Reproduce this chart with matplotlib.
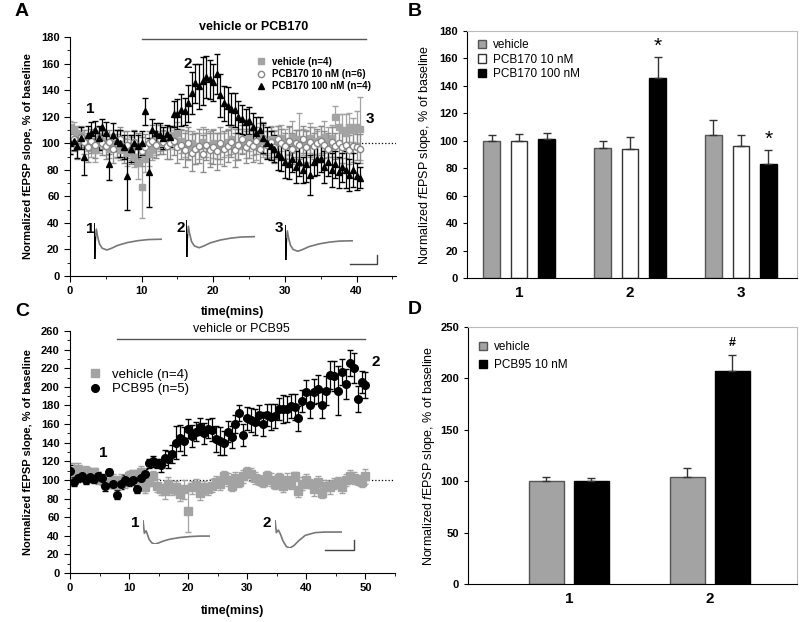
import numpy as np
import matplotlib
matplotlib.use("Agg")
import matplotlib.pyplot as plt
from matplotlib.lines import Line2D
from matplotlib.ticker import MultipleLocator

plt.rcParams['font.family'] = ['Liberation Sans', 'DejaVu Sans']
plt.rcParams['mathtext.fontset'] = 'custom'
plt.rcParams['mathtext.it'] = 'Liberation Sans:italic'
plt.rcParams['mathtext.rm'] = 'Liberation Sans'

# ---- panel A: time course, PCB170 (one point every 0.5 min) ----
t_a = np.arange(82) * 0.5
veh_a = [112, 110, 108, 106, 103, 100, 98, 95, 100, 102,
         99, 96, 100, 98, 95, 97, 93, 96, 90, 85,
         67, 88, 92, 95, 98, 100, 102, 104, 106, 103,
         108, 102, 100, 98, 100, 96, 98, 101, 99, 97,
         100, 98, 96, 99, 101, 103, 99, 98, 102, 100,
         104, 100, 98, 105, 102, 100, 103, 99, 101, 104,
         100, 102, 105, 99, 103, 101, 98, 104, 102, 100,
         103, 105, 101, 104, 120, 112, 110, 108, 112, 110,
         112, 111]
veh_a_err = [5, 6, 5, 6, 7, 6, 8, 9, 7, 6,
             8, 7, 6, 9, 8, 7, 10, 9, 8, 12,
             23, 10, 9, 8, 7, 6, 7, 8, 6, 7,
             8, 9, 10, 11, 9, 12, 10, 11, 9, 12,
             11, 10, 12, 9, 10, 11, 12, 10, 9, 11,
             10, 9, 11, 10, 12, 9, 10, 11, 12, 10,
             11, 10, 12, 11, 20, 10, 12, 11, 10, 9,
             10, 12, 11, 10, 8, 10, 12, 14, 11, 9,
             12, 24]
p10_a = [100, 103, 98, 105, 101, 97, 102, 99, 104, 100,
         98, 101, 96, 100, 103, 97, 99, 95, 101, 98,
         94, 97, 100, 102, 99, 103, 101, 98, 100, 102,
         97, 99, 95, 100, 93, 96, 98, 92, 99, 95,
         97, 94, 100, 96, 98, 101, 95, 99, 103, 97,
         100, 98, 102, 96, 104, 99, 101, 97, 103, 100,
         98, 102, 96, 100, 99, 103, 97, 101, 98, 100,
         102, 99, 96, 101, 98, 100, 97, 99, 95, 98,
         97, 96]
p10_a_err = [8, 9, 10, 8, 9, 11, 9, 10, 8, 9,
             10, 9, 11, 10, 9, 12, 10, 11, 9, 10,
             11, 10, 9, 12, 10, 11, 9, 10, 12, 11,
             12, 11, 13, 12, 14, 12, 13, 14, 12, 13,
             13, 14, 12, 13, 12, 11, 13, 12, 11, 12,
             11, 12, 10, 11, 12, 10, 11, 12, 10, 11,
             10, 11, 12, 10, 11, 10, 12, 11, 10, 11,
             11, 10, 12, 11, 10, 11, 12, 10, 11, 12,
             10, 11]
p100_a = [100, 102, 98, 104, 90, 106, 108, 110, 104, 112,
          108, 84, 106, 102, 100, 97, 75, 96, 100, 98,
          100, 124, 78, 110, 108, 106, 104, 107, 105, 122,
          122, 125, 124, 130, 138, 145, 143, 147, 150, 148,
          146, 152, 136, 130, 128, 126, 125, 120, 118, 116,
          117, 112, 108, 110, 104, 100, 98, 96, 92, 90,
          86, 84, 88, 82, 86, 80, 84, 76, 86, 88,
          88, 82, 86, 80, 84, 78, 82, 80, 76, 80,
          75, 74]
p100_a_err = [8, 7, 9, 8, 14, 7, 8, 7, 9, 6,
              8, 12, 9, 8, 10, 9, 25, 10, 9, 8,
              9, 10, 26, 8, 7, 9, 8, 7, 8, 10,
              11, 12, 10, 14, 16, 15, 17, 18, 16, 15,
              14, 15, 16, 13, 14, 12, 13, 12, 11, 10,
              10, 11, 12, 10, 11, 12, 11, 10, 12, 11,
              12, 11, 10, 12, 11, 10, 13, 15, 11, 12,
              10, 12, 11, 13, 10, 12, 11, 14, 12, 13,
              10, 8]

# ---- panel B: bar summary, PCB170 ----
b_groups = [1, 2, 3]
b_veh = [99.5, 95, 104]
b_veh_err = [4.5, 4.5, 11]
b_p10 = [100, 94, 96]
b_p10_err = [5, 9, 8]
b_p100 = [101, 146, 83]
b_p100_err = [5, 15, 10]

# ---- panel C: time course, PCB95 (one point every 40 s) ----
t_c = np.arange(76) * (50 / 75)
p95_c = [110, 98, 102, 104, 100, 103, 101, 104, 102, 94,
         108, 96, 84, 96, 100, 98, 100, 90, 102, 106,
         118, 120, 118, 116, 124, 122, 128, 140, 145, 142,
         155, 147, 152, 157, 150, 155, 154, 144, 142, 140,
         152, 146, 160, 172, 148, 166, 164, 162, 170, 160,
         170, 168, 169, 176, 176, 176, 179, 178, 166, 185,
         195, 180, 195, 198, 180, 196, 213, 212, 196, 216,
         203, 226, 220, 187, 205, 202]
p95_c_err = [6, 5, 4, 5, 4, 5, 4, 5, 4, 6,
             4, 5, 5, 6, 5, 4, 5, 4, 5, 6,
             5, 6, 5, 7, 8, 9, 10, 18, 14, 15,
             10, 12, 10, 9, 11, 10, 12, 14, 15, 13,
             11, 12, 10, 9, 12, 12, 13, 14, 11, 13,
             12, 14, 13, 12, 15, 14, 13, 14, 13, 12,
             12, 14, 13, 15, 14, 16, 15, 16, 26, 14,
             16, 14, 16, 14, 12, 14]
veh_c = [110, 108, 112, 106, 110, 104, 108, 102, 100, 98,
         96, 100, 95, 100, 98, 104, 106, 100, 108, 92,
         98, 104, 94, 90, 88, 96, 90, 92, 85, 90,
         67, 92, 95, 86, 92, 90, 94, 98, 96, 104,
         100, 94, 102, 98, 104, 108, 106, 102, 100, 98,
         104, 100, 96, 102, 93, 100, 96, 104, 88, 96,
         100, 96, 90, 98, 86, 94, 92, 96, 98, 92,
         100, 104, 102, 100, 98, 104]
veh_c_err = [8, 10, 6, 7, 5, 6, 5, 6, 5, 6,
             5, 6, 5, 6, 7, 6, 5, 6, 7, 6,
             5, 6, 7, 6, 8, 7, 6, 7, 8, 10,
             23, 7, 6, 8, 7, 6, 7, 6, 7, 6,
             7, 6, 7, 6, 7, 6, 7, 6, 5, 6,
             6, 7, 6, 5, 6, 7, 6, 5, 6, 7,
             6, 5, 7, 6, 5, 6, 7, 6, 5, 6,
             6, 7, 6, 5, 6, 8]

# ---- panel D: bar summary, PCB95 ----
d_groups = [1, 2]
d_veh = [100, 104]
d_veh_err = [4.5, 8.5]
d_p95 = [100, 207]
d_p95_err = [3.5, 16]

# sample fEPSP traces (normalised time / amplitude)
trace_a_x = [0, 0.008, 0.02, 0.035, 0.05, 0.08, 0.12, 0.19, 0.26, 0.35, 0.5, 0.65, 0.8, 1.0]
trace_a_y = [1.0, 0.0, 0.6, 0.83, 0.65, 0.42, 0.3, 0.25, 0.3, 0.38, 0.46, 0.51, 0.54, 0.55]
trace_c1_x = [0, 0.02, 0.045, 0.06, 0.09, 0.13, 0.17, 0.22, 0.3, 0.4, 0.55, 0.7, 0.85, 1.0]
trace_c1_y = [1.0, 0.45, 0.55, 0.45, 0.2, 0.05, 0.0, 0.03, 0.12, 0.2, 0.27, 0.31, 0.33, 0.33]
trace_c2_x = [0, 0.02, 0.05, 0.08, 0.12, 0.17, 0.22, 0.28, 0.35, 0.45, 0.6, 0.75, 1.0]
trace_c2_y = [1.0, 0.55, 0.64, 0.5, 0.25, 0.05, 0.0, 0.08, 0.25, 0.45, 0.55, 0.57, 0.57]

W, H = 800, 622
fig = plt.figure(figsize=(W / 100, H / 100), dpi=100)


def px_axes(x0, y0, x1, y1):
    return fig.add_axes([x0 / W, 1 - y1 / H, (x1 - x0) / W, (y1 - y0) / H])


def px_line(xs, ys, **kw):
    fig.add_artist(Line2D([x / W for x in xs], [1 - y / H for y in ys],
                          transform=fig.transFigure, **kw))


def trace(box, xs, ys, spike_n=0):
    ax = px_axes(*box)
    ax.plot(xs, ys, color='#777777', lw=1.2)
    if spike_n:
        ax.plot(xs[:spike_n], ys[:spike_n], color='black', lw=1.2)
    ax.set_xlim(0, 1)
    ax.set_ylim(0, 1)
    ax.axis('off')


def style_time_axes(ax):
    ax.spines['top'].set_visible(False)
    ax.spines['right'].set_visible(False)
    ax.tick_params(which='both', direction='out', labelsize=8)
    ax.tick_params(which='major', length=4)
    ax.tick_params(which='minor', length=2.5)
    for lab in ax.get_xticklabels() + ax.get_yticklabels():
        lab.set_fontweight('bold')


def style_bar_axes(ax):
    for s in ['top', 'right']:
        ax.spines[s].set_color('#bbbbbb')
    ax.tick_params(axis='y', direction='out', length=3, labelsize=8)
    ax.tick_params(axis='x', length=0, labelsize=11, pad=6)
    for lab in ax.get_xticklabels() + ax.get_yticklabels():
        lab.set_fontweight('bold')


gray = '#a3a3a3'

# ---------------- A ----------------
ax = px_axes(70, 37, 396, 276)
ax.axhline(100, ls=':', color='black', lw=0.9, zorder=0)
ax.errorbar(t_a, veh_a, yerr=veh_a_err, fmt='s', ms=4.5, color=gray,
            ecolor=gray, elinewidth=0.9, capsize=2)
ax.errorbar(t_a, p10_a, yerr=p10_a_err, fmt='o', ms=4.5, mfc='white', mec='#888888',
            ecolor='#8c8c8c', elinewidth=0.9, capsize=2)
ax.errorbar(t_a, p100_a, yerr=p100_a_err, fmt='^', ms=5, color='black',
            ecolor='black', elinewidth=0.9, capsize=2)
ax.set_xlim(0, 45.5)
ax.set_ylim(0, 180)
ax.xaxis.set_major_locator(MultipleLocator(10))
ax.xaxis.set_minor_locator(MultipleLocator(5))
ax.yaxis.set_major_locator(MultipleLocator(20))
ax.yaxis.set_minor_locator(MultipleLocator(10))
style_time_axes(ax)
ax.set_xlabel('time(mins)', fontsize=9, fontweight='bold')
ax.xaxis.set_label_coords(0.5, -0.125)
ax.set_ylabel('Normalized fEPSP slope, % of baseline', fontsize=8, fontweight='bold')
ax.yaxis.set_label_coords(-0.113, 0.5)
ax.plot([10, 41.3], [178.5, 178.5], color='#555555', lw=1, clip_on=False)
ax.text(25.6, 183, 'vehicle or PCB170', ha='center', va='bottom', fontsize=9, fontweight='bold')
handles = [Line2D([], [], ls='', marker='s', ms=4.5, color=gray),
           Line2D([], [], ls='', marker='o', ms=4.5, mfc='white', mec='#888888'),
           Line2D([], [], ls='', marker='^', ms=5, color='black')]
leg = ax.legend(handles, ['vehicle (n=4)', 'PCB170 10 nM (n=6)', 'PCB170 100 nM (n=4)'],
                loc='upper left', bbox_to_anchor=(0.545, 0.955), frameon=False,
                handlelength=1, handletextpad=0.6, labelspacing=0.25,
                prop={'size': 7, 'weight': 'bold'})
ax.text(2.8, 126, '1', ha='center', va='center', fontsize=11, fontweight='bold')
ax.text(16.5, 160, '2', ha='center', va='center', fontsize=11, fontweight='bold')
ax.text(41.9, 118, '3', ha='center', va='center', fontsize=11, fontweight='bold')

for box, lbl in [((94, 223, 162, 259), (90, 229)),
                 ((186, 220, 255, 257), (181, 228)),
                 ((285, 225, 353, 260), (279, 228))]:
    trace(box, trace_a_x, trace_a_y, spike_n=3)
    fig.text(lbl[0] / W, 1 - lbl[1] / H, str([94, 186, 285].index(box[0]) + 1),
             ha='center', va='center', fontsize=11, fontweight='bold')
px_line([350, 377, 377], [263.5, 263.5, 255], color='#444444', lw=1)

# ---------------- B ----------------
ax = px_axes(467, 31, 797, 278)
g = np.array(b_groups)
bw, off = 0.149, 0.248
kw = dict(width=bw, linewidth=1, capsize=3, error_kw=dict(elinewidth=1, capthick=1))
ax.bar(g - off, b_veh, yerr=[[0] * 3, b_veh_err], color=gray, edgecolor='#555555',
       ecolor='#333333', label='vehicle', **kw)
ax.bar(g, b_p10, yerr=[[0] * 3, b_p10_err], color='white', edgecolor='#333333',
       ecolor='#333333', label='PCB170 10 nM', **kw)
ax.bar(g + off, b_p100, yerr=[[0] * 3, b_p100_err], color='black', edgecolor='black',
       ecolor='#333333', label='PCB170 100 nM', **kw)
ax.text(2 + off, b_p100[1] + b_p100_err[1] + 1, '*', ha='center', va='bottom', fontsize=15)
ax.text(3 + off, b_p100[2] + b_p100_err[2] + 1, '*', ha='center', va='bottom', fontsize=15)
ax.set_xlim(0.53, 3.505)
ax.set_ylim(0, 180)
ax.set_xticks(b_groups)
ax.yaxis.set_major_locator(MultipleLocator(20))
style_bar_axes(ax)
ax.set_ylabel('Normalized $\\it{f}$EPSP slope, % of baseline', fontsize=9)
ax.yaxis.set_label_coords(-0.103, 0.5)
ax.legend(loc='upper left', bbox_to_anchor=(0.0, 1.01), frameon=False,
          handlelength=0.7, handleheight=0.7, handletextpad=0.6, labelspacing=0.2,
          fontsize=8.5)

# ---------------- C ----------------
ax = px_axes(70, 331, 395, 573)
ax.axhline(100, ls=':', color='black', lw=0.9, zorder=0)
ax.errorbar(t_c, veh_c, yerr=veh_c_err, fmt='s', ms=5.5, color=gray,
            ecolor=gray, elinewidth=0.9, capsize=2)
ax.errorbar(t_c, p95_c, yerr=p95_c_err, fmt='o', ms=5.5, color='black',
            ecolor='black', elinewidth=0.9, capsize=2)
ax.set_xlim(0, 55)
ax.set_ylim(0, 260)
ax.xaxis.set_major_locator(MultipleLocator(10))
ax.xaxis.set_minor_locator(MultipleLocator(5))
ax.yaxis.set_major_locator(MultipleLocator(20))
ax.yaxis.set_minor_locator(MultipleLocator(10))
style_time_axes(ax)
ax.set_xlabel('time(mins)', fontsize=9, fontweight='bold')
ax.xaxis.set_label_coords(0.5, -0.132)
ax.set_ylabel('Normalized fEPSP slope, % of baseline', fontsize=8, fontweight='bold')
ax.yaxis.set_label_coords(-0.114, 0.5)
ax.plot([7.9, 50], [251, 251], color='#555555', lw=1, clip_on=False)
ax.text(29, 256, 'vehicle or PCB95', ha='center', va='bottom', fontsize=9)
handles = [Line2D([], [], ls='', marker='s', ms=5.5, color=gray),
           Line2D([], [], ls='', marker='o', ms=5.5, color='black')]
ax.legend(handles, ['vehicle (n=4)', 'PCB95 (n=5)'], loc='upper left',
          bbox_to_anchor=(0.02, 0.895), frameon=False, handlelength=1,
          handletextpad=0.8, labelspacing=0.2, fontsize=9.5)
ax.text(5.6, 129, '1', ha='center', va='center', fontsize=11, fontweight='bold')
ax.text(51.8, 227, '2', ha='center', va='center', fontsize=11, fontweight='bold')

trace((143, 520, 210, 544), trace_c1_x, trace_c1_y)
trace((275, 520, 342, 548), trace_c2_x, trace_c2_y)
fig.text(135 / W, 1 - 523 / H, '1', ha='center', va='center', fontsize=11, fontweight='bold')
fig.text(267 / W, 1 - 523 / H, '2', ha='center', va='center', fontsize=11, fontweight='bold')
px_line([325, 353.5, 353.5], [549.5, 549.5, 540], color='#444444', lw=1)

# ---------------- D ----------------
ax = px_axes(468, 327, 797, 584)
g = np.array(d_groups)
bw, off = 0.248, 0.16
kw = dict(width=bw, linewidth=1, capsize=3, error_kw=dict(elinewidth=1, capthick=1))
ax.bar(g - off, d_veh, yerr=[[0] * 2, d_veh_err], color=gray, edgecolor='#555555',
       ecolor='#333333', label='vehicle', **kw)
ax.bar(g + off, d_p95, yerr=[[0] * 2, d_p95_err], color='black', edgecolor='black',
       ecolor='#333333', label='PCB95 10 nM', **kw)
ax.text(2 + off, d_p95[1] + d_p95_err[1] + 6, '#', ha='center', va='bottom',
        fontsize=9, fontweight='bold')
ax.set_xlim(0.286, 2.617)
ax.set_ylim(0, 250)
ax.set_xticks(d_groups)
ax.yaxis.set_major_locator(MultipleLocator(50))
style_bar_axes(ax)
ax.set_ylabel('Normalized $\\it{f}$EPSP slope, % of baseline', fontsize=9)
ax.yaxis.set_label_coords(-0.094, 0.5)
ax.legend(loc='upper left', bbox_to_anchor=(0.0, 0.985), frameon=False,
          handlelength=0.7, handleheight=0.7, handletextpad=0.6, labelspacing=0.5,
          fontsize=8.5)

# panel letters
for letter, x, y in [('A', 15, 12), ('B', 408, 12), ('C', 15, 312), ('D', 408, 310)]:
    fig.text(x / W, 1 - y / H, letter, ha='left', va='center', fontsize=14, fontweight='bold')

fig.savefig('out.png', dpi=100)
